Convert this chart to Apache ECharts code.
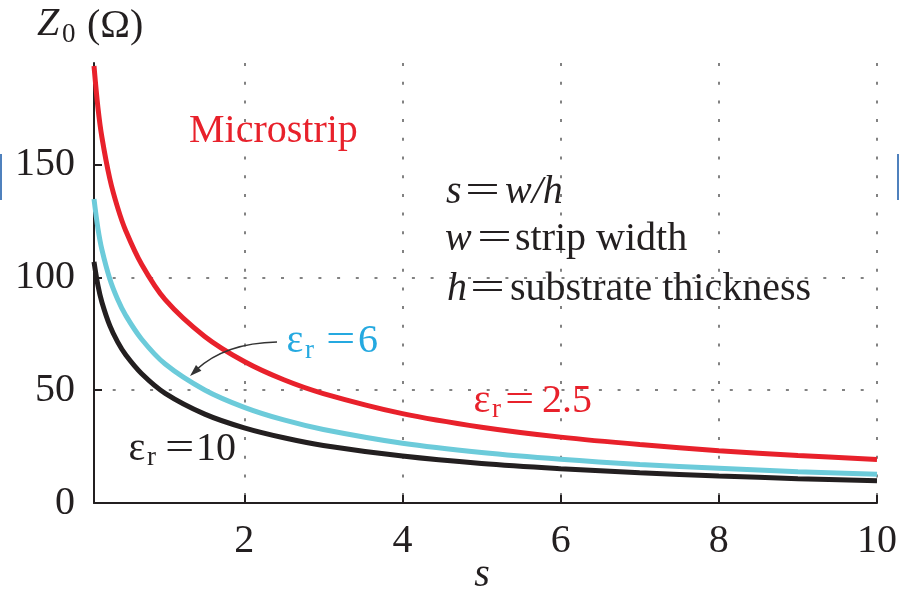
<!DOCTYPE html>
<html>
<head>
<meta charset="utf-8">
<title>Microstrip characteristic impedance</title>
<script src="https://cdn.jsdelivr.net/npm/echarts@6.0.0/dist/echarts.min.js"></script>
<style>
  html, body { margin: 0; padding: 0; background: #ffffff; }
  #chart { width: 900px; height: 592px; }
</style>
</head>
<body>
<div id="chart"></div>
<script>
// Normalised strip width s = w/h
const sValues = [0.1, 0.15, 0.2, 0.3, 0.4, 0.5, 0.7, 1, 1.5, 2, 2.5, 3, 4, 5, 6, 7, 8, 9, 10];
// Characteristic impedance Z0 (ohm) for three substrate permittivities
const z0Er25 = [193.7, 175.2, 162.1, 143.7, 130.8, 120.8, 105.9, 90.1, 73.8, 62.7, 54.6, 48.5, 39.6, 33.6, 29.2, 25.9, 23.2, 21.1, 19.3];
const z0Er6  = [134.7, 121.6, 112.3, 99.3, 90.2, 83.2, 72.7, 61.6, 50.1, 42.4, 36.8, 32.6, 26.5, 22.4, 19.4, 17.1, 15.4, 13.9, 12.7];
const z0Er10 = [106.9, 96.4, 89.0, 78.6, 71.3, 65.7, 57.4, 48.6, 39.4, 33.3, 28.9, 25.5, 20.8, 17.5, 15.2, 13.4, 12.0, 10.8, 9.9];
// Tick labels
const xTicks = [2, 4, 6, 8, 10];
const yTicks = [0, 50, 100, 150];

const SERIF = '"Liberation Serif", "Times New Roman", serif';
const INK = '#231F20';
const RED = '#E8212B';
const CYAN_LINE = '#6CCBDA';
const CYAN_TEXT = '#25A9E0';

function pairs(xs, ys) { return xs.map((x, i) => [x, ys[i]]); }

function txt(text, x, y, size, color, extra) {
  extra = extra || {};
  const el = {
    type: 'text', x: x, y: y, z: 100,
    style: {
      text: text,
      fill: color,
      font: (extra.italic ? 'italic ' : '') + size + 'px ' + SERIF,
      align: extra.align || 'left',
      verticalAlign: 'middle'
    }
  };
  if (extra.scaleX) { el.scaleX = extra.scaleX; }
  return el;
}

// "εr = value" label built from its pieces
function epsLabel(x, y, value, valueX, eqX, color) {
  return [
    txt('ε', x, y, 40, color),
    txt('r', x + 18.5, y + 9, 27, color),
    txt('=', eqX, y, 40, color, { scaleX: 1.3 }),
    txt(value, valueX, y, 40, color)
  ];
}

const lineSeries = (name, data, color, z) => ({
  name: name,
  type: 'line',
  data: pairs(sValues, data),
  showSymbol: false,
  smooth: 0.35,
  lineStyle: { color: color, width: 5 },
  z: z,
  animation: false
});

const gridDash = { color: '#5a5a5a', width: 1.5, type: [3, 15.7] };

const option = {
  animation: false,
  backgroundColor: '#ffffff',
  grid: { left: 94, right: 22, top: 63, bottom: 89 },
  xAxis: {
    type: 'value',
    min: 0.1,
    max: 10,
    axisLine: { show: true, onZero: false, lineStyle: { color: INK, width: 2 } },
    axisTick: { show: true, inside: true, length: 8, customValues: xTicks, lineStyle: { color: INK, width: 2 } },
    axisLabel: { customValues: xTicks, margin: 18, color: INK, fontSize: 40, fontFamily: SERIF },
    splitLine: { show: true, lineStyle: gridDash }
  },
  yAxis: {
    type: 'value',
    min: 0,
    max: 195,
    axisLine: { show: true, onZero: false, lineStyle: { color: INK, width: 2 } },
    axisTick: { show: true, inside: true, length: 8, customValues: yTicks, lineStyle: { color: INK, width: 2 } },
    axisLabel: { customValues: yTicks, margin: 19, color: INK, fontSize: 40, fontFamily: SERIF },
    splitLine: { show: true, showMinLine: false, showMaxLine: false, lineStyle: gridDash }
  },
  series: [
    lineSeries('εr = 2.5', z0Er25, RED, 4),
    lineSeries('εr = 6', z0Er6, CYAN_LINE, 3),
    lineSeries('εr = 10', z0Er10, INK, 2)
  ],
  graphic: [
    // Axis titles
    txt('Z', 37, 24, 40, INK, { italic: true }),
    txt('0', 62, 35, 27, INK),
    txt('(Ω)', 87, 26, 40, INK),
    txt('s', 482, 575, 40, INK, { italic: true, align: 'center' }),
    // Title and definitions
    txt('Microstrip', 189, 131.5, 40, RED),
    txt('s', 446, 192, 40, INK, { italic: true }),
    txt('=', 465, 192, 40, INK, { scaleX: 1.55 }),
    txt('w/h', 505, 192, 40, INK, { italic: true }),
    txt('w', 445, 239, 40, INK, { italic: true }),
    txt('=', 477, 239, 40, INK, { scaleX: 1.55 }),
    txt('strip width', 515, 239, 40, INK),
    txt('h', 447, 289, 40, INK, { italic: true }),
    txt('=', 470, 289, 40, INK, { scaleX: 1.55 }),
    txt('substrate thickness', 510, 289, 40, INK),
    // Curve labels
    ...epsLabel(286.5, 341.5, '6', 358, 326, CYAN_TEXT),
    ...epsLabel(473.5, 401, '2.5', 542, 505, RED),
    ...epsLabel(128.5, 449, '10', 196, 165, INK),
    // Pointer from the εr = 6 label to its curve
    {
      type: 'bezierCurve', z: 90,
      shape: { x1: 277, y1: 342, cpx1: 225, cpy1: 343, x2: 196, y2: 370 },
      style: { stroke: '#333333', lineWidth: 1.5, fill: null }
    },
    {
      type: 'polygon', z: 90,
      shape: { points: [[190, 376], [201.4, 370.7], [196.0, 364.9]] },
      style: { fill: '#333333' }
    },
    // Edge markers
    { type: 'rect', shape: { x: 0, y: 154, width: 2, height: 46 }, style: { fill: '#4F81BD' } },
    { type: 'rect', shape: { x: 897, y: 154, width: 2, height: 46 }, style: { fill: '#4F81BD' } }
  ]
};

const chart = echarts.init(document.getElementById('chart'), null, { renderer: 'canvas' });
chart.setOption(option);
</script>
</body>
</html>
